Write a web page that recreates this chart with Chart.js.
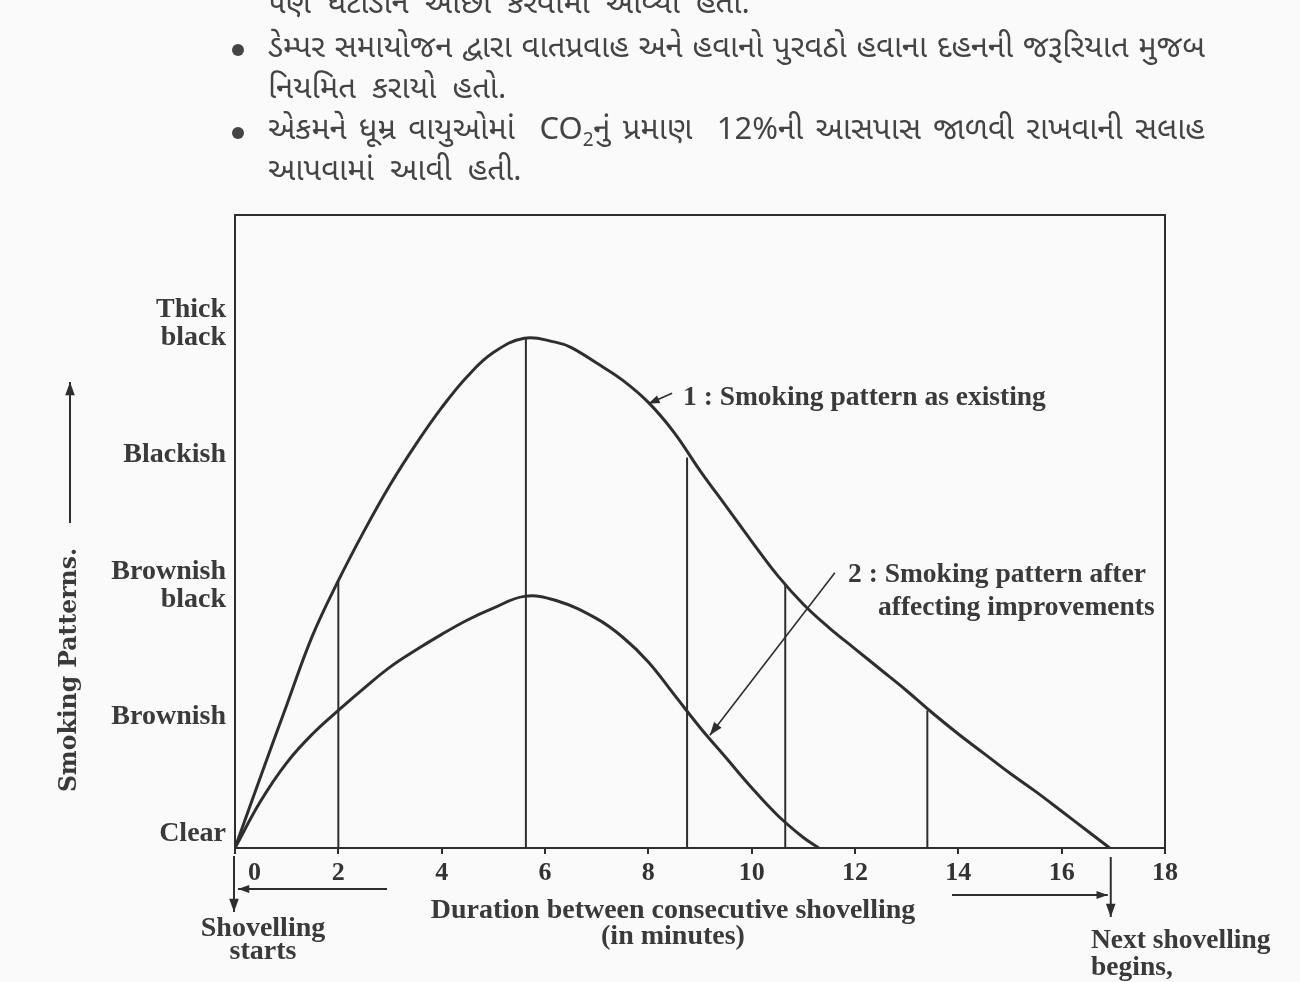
<!DOCTYPE html>
<html>
<head>
<meta charset="utf-8">
<title>Smoking patterns</title>
<script src="https://cdn.jsdelivr.net/npm/chart.js"></script>
<style>
  body { margin: 0; background: #fafafa; }
  #wrap { position: relative; width: 1300px; height: 982px; overflow: hidden; }
  #chart { position: absolute; left: 0; top: 0; }
  .txt { position: absolute; color: #3a3a3a; white-space: nowrap;
         font-family: "Liberation Serif", "Times New Roman", serif; font-weight: bold; }
  .guj { position: absolute; left: 268px; width: 937px; height: 30px; line-height: 30px;
         font-family: "Noto Sans Gujarati", "Noto Serif Gujarati", "Lohit Gujarati", "Shruti", sans-serif;
         font-size: 31px; color: #444; white-space: nowrap; }
  .full { text-align: justify; text-align-last: justify; }
  .short { word-spacing: 8px; }
  .dot { position: absolute; left: 232px; width: 12px; height: 12px; border-radius: 50%; background: #444; }
</style>
</head>
<body>
<div id="wrap">
  <canvas id="chart" width="1300" height="982"></canvas>

  <div class="guj short" style="top:-9px; width:470px;">પણ ઘટાડીને ઓછા કરવામાં આવ્યાં હતાં.</div>
  <div class="dot" style="top:44px;"></div>
  <div class="guj full" style="top:35px;">ડેમ્પર સમાયોજન દ્વારા વાતપ્રવાહ અને હવાનો પુરવઠો હવાના દહનની જરૂરિયાત મુજબ</div>
  <div class="guj short" style="top:76px;">નિયમિત કરાયો હતો.</div>
  <div class="dot" style="top:127px;"></div>
  <div class="guj full" style="top:117px;">એકમને ધૂમ્ર વાયુઓમાં &nbsp;CO<sub style="font-size:19px;line-height:0">2</sub>નું પ્રમાણ &nbsp;12%ની આસપાસ જાળવી રાખવાની સલાહ</div>
  <div class="guj short" style="top:158px;">આપવામાં આવી હતી.</div>

  <div class="txt" style="left:683px; top:380px; font-size:27.5px;">1 : Smoking pattern as existing</div>
  <div class="txt" style="left:848px; top:557px; font-size:27.5px;">2 : Smoking pattern after</div>
  <div class="txt" style="left:878px; top:590px; font-size:27.5px;">affecting improvements</div>

  <div class="txt" style="left:-70px; top:656px; width:276px; height:28px; line-height:28px; text-align:center;
       font-family:'DejaVu Serif', serif; font-size:23.5px; transform:rotate(-90deg);">Smoking Patterns.</div>

  <div class="txt" style="left:373px; top:896px; width:600px; text-align:center; font-size:28px; line-height:26px;">
    Duration between consecutive shovelling<br>(in minutes)</div>
  <div class="txt" style="left:163px; top:915px; width:200px; text-align:center; font-size:28px; line-height:23px;">
    Shovelling<br>starts</div>
  <div class="txt" style="left:1091px; top:925px; font-size:27.5px; line-height:27px;">
    Next shovelling<br>begins,</div>
</div>

<script>
// x axis: duration (minutes), y axis: smoke level 0..4
const xTickValues = [0, 2, 4, 6, 8, 10, 12, 14, 16, 18];
const levelValues = [0, 1, 2, 3, 4];
const levelLabels = [["Clear", ""], "Brownish", ["Brownish", "black"], "Blackish", ["Thick", "black"]];

// curve 1 : smoking pattern as existing
const curve1X = [0, 0.5, 1, 1.5, 2, 2.5, 3, 3.5, 4, 4.5, 5, 5.6, 6.2, 6.5, 7, 7.5, 8, 8.5, 9, 9.5, 10, 10.5, 11, 11.5, 12, 12.5, 13, 13.5, 14, 14.5, 15, 15.5, 16, 16.5, 16.93];
const curve1Y = [0, 0.55, 1.09, 1.62, 2.04, 2.42, 2.77, 3.08, 3.36, 3.6, 3.78, 3.89, 3.86, 3.82, 3.7, 3.57, 3.4, 3.17, 2.88, 2.61, 2.34, 2.08, 1.86, 1.68, 1.52, 1.36, 1.2, 1.03, 0.87, 0.72, 0.57, 0.43, 0.28, 0.13, 0];

// curve 2 : smoking pattern after affecting improvements
const curve2X = [0, 0.5, 1, 1.5, 2, 2.5, 3, 3.5, 4, 4.5, 5, 5.6, 6.2, 7, 7.5, 8, 8.5, 9, 9.5, 10, 10.5, 11, 11.3];
const curve2Y = [0, 0.36, 0.65, 0.87, 1.05, 1.22, 1.38, 1.51, 1.63, 1.74, 1.83, 1.92, 1.89, 1.75, 1.61, 1.42, 1.17, 0.92, 0.69, 0.46, 0.25, 0.08, 0];

// vertical guide lines up to curve 1
const guideX = [2, 5.63, 8.75, 10.65, 13.4];
const guideTop = [2.04, 3.89, 2.98, 2.01, 1.05];

// pointer arrows (data coords): [fromX, fromY, toX, toY]
const pointer1 = [8.46, 3.47, 8.0, 3.39];
const pointer2 = [11.61, 2.1, 9.19, 0.86];
const nextShovel = 16.95;

const ink = "#2e2e2e";
const serif = "'Liberation Serif', 'Times New Roman', serif";

function pts(xs, ys) {
  return xs.map((x, i) => ({ x: x, y: ys[i] }));
}

var guidePts = [];
guideX.forEach((x, i) => {
  guidePts.push({ x: x, y: 0 }, { x: x, y: guideTop[i] }, { x: x, y: null });
});

function arrow(ctx, x1, y1, x2, y2, size) {
  var ang = Math.atan2(y2 - y1, x2 - x1);
  ctx.beginPath();
  ctx.moveTo(x1, y1);
  ctx.lineTo(x2, y2);
  ctx.stroke();
  ctx.beginPath();
  ctx.moveTo(x2, y2);
  ctx.lineTo(x2 - size * Math.cos(ang - 0.35), y2 - size * Math.sin(ang - 0.35));
  ctx.lineTo(x2 - size * Math.cos(ang + 0.35), y2 - size * Math.sin(ang + 0.35));
  ctx.closePath();
  ctx.fill();
}

const frame = {
  id: "frame",
  afterDatasetsDraw(chart) {
    const { ctx, chartArea: a, scales: { x, y } } = chart;
    ctx.save();
    ctx.strokeStyle = ink;
    ctx.fillStyle = ink;
    ctx.lineWidth = 2;
    ctx.strokeRect(a.left, a.top, a.right - a.left, a.bottom - a.top);

    ctx.lineWidth = 1.6;
    arrow(ctx, x.getPixelForValue(pointer1[0]), y.getPixelForValue(pointer1[1]),
               x.getPixelForValue(pointer1[2]), y.getPixelForValue(pointer1[3]), 12);
    arrow(ctx, x.getPixelForValue(pointer2[0]), y.getPixelForValue(pointer2[1]),
               x.getPixelForValue(pointer2[2]), y.getPixelForValue(pointer2[3]), 14);

    // y title arrow
    ctx.lineWidth = 2;
    arrow(ctx, 70, 523, 70, 382, 14);

    // shovelling starts
    var x0 = x.getPixelForValue(0) - 1;
    arrow(ctx, x0, a.bottom + 8, x0, a.bottom + 64, 14);
    arrow(ctx, 387, a.bottom + 41, x0 + 4, a.bottom + 41, 12);

    // next shovelling begins
    var xn = x.getPixelForValue(nextShovel);
    arrow(ctx, xn, a.bottom + 9, xn, a.bottom + 69, 14);
    arrow(ctx, 952, a.bottom + 47, xn - 3, a.bottom + 47, 12);
    ctx.restore();
  }
};

Chart.defaults.font.family = serif;
Chart.defaults.color = "#3a3a3a";

new Chart(document.getElementById("chart"), {
  type: "line",
  data: {
    datasets: [
      {
        label: "1 : Smoking pattern as existing",
        data: pts(curve1X, curve1Y),
        borderColor: ink,
        borderWidth: 3,
        pointRadius: 0,
        tension: 0.4,
      },
      {
        label: "2 : Smoking pattern after affecting improvements",
        data: pts(curve2X, curve2Y),
        borderColor: ink,
        borderWidth: 3,
        pointRadius: 0,
        tension: 0.4,
      },
      {
        label: "guides",
        data: guidePts,
        borderColor: ink,
        borderWidth: 2,
        pointRadius: 0,
        spanGaps: false,
      },
    ],
  },
  options: {
    responsive: false,
    animation: false,
    layout: { padding: { left: 0, top: 215, right: 135, bottom: 0 } },
    plugins: {
      legend: { display: false },
      tooltip: { enabled: false },
    },
    scales: {
      x: {
        type: "linear",
        min: 0,
        max: 18,
        afterFit: (s) => { s.height = 134; },
        afterBuildTicks: (s) => { s.ticks = xTickValues.map((v) => ({ value: v })); },
        border: { display: false },
        grid: { drawOnChartArea: false, drawTicks: true, tickLength: 6, color: ink, lineWidth: 2 },
        ticks: {
          padding: 4,
          color: "#333",
          font: { size: 26, weight: "bold" },
          // the 0 sits a little right of the axis, clear of the start arrow
          callback: (v) => (v === 0 ? "\u2003\u20020" : String(v)),
        },
      },
      y: {
        type: "linear",
        min: 0,
        max: 4.83,
        afterFit: (s) => { s.width = 235; },
        afterBuildTicks: (s) => { s.ticks = levelValues.map((v) => ({ value: v })); },
        border: { display: false },
        grid: { display: false, drawTicks: false },
        ticks: {
          padding: 9,
          color: "#3a3a3a",
          font: { size: 28, weight: "bold", lineHeight: 1.0 },
          callback: (v, i) => levelLabels[i],
        },
      },
    },
  },
  plugins: [frame],
});
</script>
</body>
</html>
